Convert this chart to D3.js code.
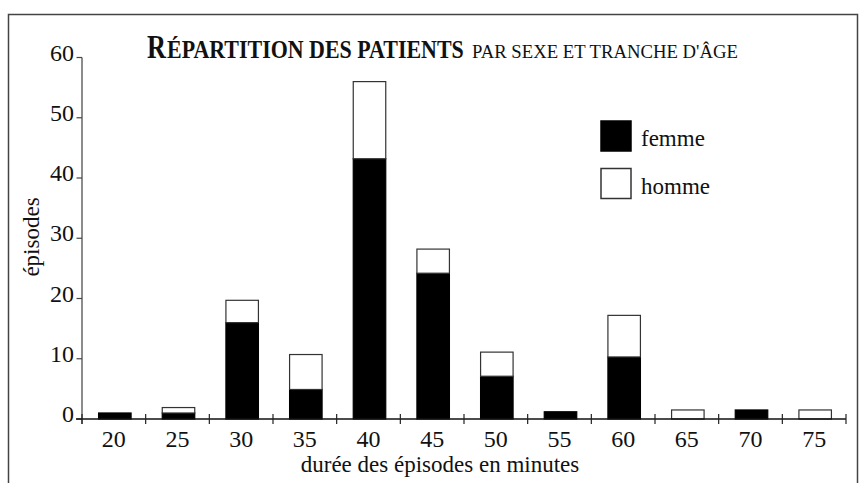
<!DOCTYPE html>
<html>
<head>
<meta charset="utf-8">
<script src="https://cdn.jsdelivr.net/npm/d3@7"></script>
<style>
  body { margin: 0; background: white; }
</style>
</head>
<body>
<div id="main"></div>
<script>
var width = 866,
    height = 483;
var serif = "'Liberation Serif', 'DejaVu Serif', serif";

// durée des épisodes (minutes)
var categories = ["20", "25", "30", "35", "40", "45", "50", "55", "60", "65", "70", "75"];
// nombre d'épisodes
var femme = [1, 1, 16, 4.9, 43.2, 24.2, 7.1, 1.2, 10.3, 0, 1.5, 0];
var homme = [0, 0.9, 3.7, 5.8, 12.8, 4, 4, 0, 6.9, 1.5, 0, 1.5];
var yTicks = [0, 10, 20, 30, 40, 50, 60];

var svg = d3.select("#main")
  .append("svg")
  .attr("width", width)
  .attr("height", height)
  .attr("font-family", serif)
  .style("background-color", "white");

// cadre
svg.append("path")
  .attr("d", "M8.5,483V14.5H857.5V483")
  .attr("fill", "none")
  .attr("stroke", "#444")
  .attr("stroke-width", 1.5);

var x = d3.scaleBand()
  .domain(categories)
  .range([82, 846])
  .padding(0);

var y = d3.scaleLinear()
  .domain([0, 60])
  .range([419, 57.5]);

var barW = 32.5;
var bw = x.bandwidth();

// stacked data
var rows = categories.map(function(c, i) {
  return {cat: c, femme: femme[i], homme: homme[i]};
});
var stack = d3.stack().keys(["femme", "homme"])(rows);

var colors = {femme: "#000", homme: "#fff"};

stack.forEach(function(layer) {
  svg.append("g")
    .attr("class", "serie-" + layer.key)
    .selectAll("rect")
    .data(layer.filter(function(d) { return d[1] - d[0] > 0; }))
  .enter().append("rect")
    .attr("x", function(d) { return x(d.data.cat) + (bw - barW) / 2 + 1; })
    .attr("width", barW)
    .attr("y", function(d) { return y(d[1]); })
    .attr("height", function(d) { return y(d[0]) - y(d[1]); })
    .attr("fill", colors[layer.key])
    .attr("stroke", layer.key == "homme" ? "#333" : "#000")
    .attr("stroke-width", 1.2);
});

// axe y
var yAxis = svg.append("g");
yAxis.append("line")
  .attr("x1", 82).attr("x2", 82)
  .attr("y1", y(60)).attr("y2", 424)
  .attr("stroke", "#666").attr("stroke-width", 1.5);
yAxis.selectAll("line.tick")
  .data(yTicks)
.enter().append("line")
  .attr("class", "tick")
  .attr("x1", 76.5).attr("x2", 82)
  .attr("y1", function(d) { return y(d); })
  .attr("y2", function(d) { return y(d); })
  .attr("stroke", "#444").attr("stroke-width", 1.2);
yAxis.selectAll("text")
  .data(yTicks)
.enter().append("text")
  .attr("x", 74)
  .attr("y", function(d) { return y(d) + 3; })
  .attr("text-anchor", "end")
  .attr("font-size", 24)
  .attr("fill", "#111")
  .text(function(d) { return d; });

// axe x
var xAxis = svg.append("g");
xAxis.append("line")
  .attr("x1", 76).attr("x2", 846)
  .attr("y1", 419).attr("y2", 419)
  .attr("stroke", "#111").attr("stroke-width", 1.5);
xAxis.selectAll("line.tick")
  .data(categories.concat(["end"]))
.enter().append("line")
  .attr("class", "tick")
  .attr("x1", function(d) { return d == "end" ? 846 : x(d); })
  .attr("x2", function(d) { return d == "end" ? 846 : x(d); })
  .attr("y1", 414).attr("y2", 424)
  .attr("stroke", "#222").attr("stroke-width", 1.2);
xAxis.selectAll("text")
  .data(categories)
.enter().append("text")
  .attr("x", function(d) { return x(d) + bw / 2; })
  .attr("y", 447)
  .attr("text-anchor", "middle")
  .attr("font-size", 24)
  .attr("fill", "#111")
  .text(function(d) { return d; });

// titres des axes
svg.append("text")
  .attr("x", 440)
  .attr("y", 472)
  .attr("text-anchor", "middle")
  .attr("font-size", 23)
  .attr("fill", "#111")
  .text("durée des épisodes en minutes");

svg.append("text")
  .attr("transform", "translate(39,237) rotate(-90)")
  .attr("text-anchor", "middle")
  .attr("font-size", 23)
  .attr("fill", "#111")
  .text("épisodes");

// titre : petites capitales condensées, chaque morceau ajusté à sa largeur
var titleParts = [
  {t: "R", x0: 147, w: 19, size: 34, bold: true},
  {t: "ÉPARTITION DES PATIENTS", x0: 167, w: 297, size: 26, bold: true},
  {t: "PAR SEXE ET TRANCHE D'ÂGE", x0: 472, w: 266, size: 19, bold: false}
];
titleParts.forEach(function(p) {
  var t = svg.append("text")
    .attr("font-size", p.size)
    .attr("font-weight", p.bold ? "bold" : "normal")
    .attr("fill", "#111")
    .text(p.t);
  var natural = t.node().getComputedTextLength();
  t.attr("transform", "translate(" + p.x0 + ",58) scale(" + (p.w / natural) + ",1)");
});

// légende
var legend = svg.append("g").selectAll("g")
  .data(["femme", "homme"])
.enter().append("g")
  .attr("transform", function(d, i) { return "translate(601," + (121 + i * 47.5) + ")"; });
legend.append("rect")
  .attr("width", 30).attr("height", 30)
  .attr("fill", function(d) { return colors[d]; })
  .attr("stroke", function(d) { return d == "homme" ? "#333" : "#000"; })
  .attr("stroke-width", 1.5);
legend.append("text")
  .attr("x", 40).attr("y", 25)
  .attr("font-size", 23)
  .attr("fill", "#111")
  .text(function(d) { return d; });
</script>
</body>
</html>
